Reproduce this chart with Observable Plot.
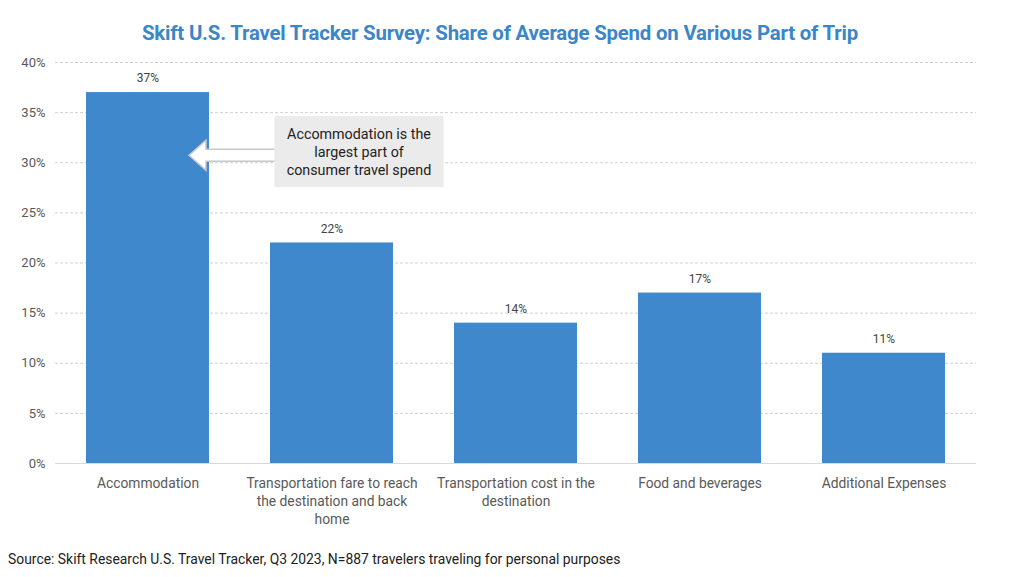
<!DOCTYPE html>
<html>
<head>
<meta charset="utf-8">
<script src="https://cdn.jsdelivr.net/npm/d3@7"></script>
<script src="https://cdn.jsdelivr.net/npm/@observablehq/plot@0.6"></script>
<style>
  body { margin: 0; background: #fff; font-family: Roboto, "Liberation Sans", sans-serif; }
  #wrap { width: 1024px; height: 577px; position: relative; overflow: hidden; }
  #title { height: 50px; line-height: 66px; text-align: center; padding-right: 24px; font-size: 20.4px; font-weight: bold; color: #3b86c8; letter-spacing: -0.2px; }
  #caption { position: absolute; left: 8px; top: 551px; font-size: 13.9px; color: #222; }
</style>
</head>
<body>
<div id="wrap">
  <div id="title">Skift U.S. Travel Tracker Survey: Share of Average Spend on Various Part of Trip</div>
  <div id="chart"></div>
  <div id="caption">Source: Skift Research U.S. Travel Tracker, Q3 2023, N=887 travelers traveling for personal purposes</div>
</div>
<script>
const categories = ["Accommodation", "Transportation fare to reach the destination and back home", "Transportation cost in the destination", "Food and beverages", "Additional Expenses"];
const tickLabels = ["Accommodation", "Transportation fare to reach\nthe destination and back\nhome", "Transportation cost in the\ndestination", "Food and beverages", "Additional Expenses"];
const shares = [37, 22, 14, 17, 11];
const yTicks = [0, 5, 10, 15, 20, 25, 30, 35, 40];
const annotationText = "Accommodation is the\nlargest part of\nconsumer travel spend";

const data = categories.map((c, i) => ({category: c, share: shares[i]}));
const labelOf = new Map(categories.map((c, i) => [c, tickLabels[i]]));

const annotation = (index, scales) => {
  const x = scales.x, y = scales.y;
  const bw = x.bandwidth();
  const x0 = x(categories[0]) + bw;          // right edge of first bar
  const cx2 = x(categories[1]) + bw / 2;     // center of second bar
  const yA = y(30.7);
  const g = d3.create("svg:g");
  const tip = x0 - 20, headBack = x0 - 3, shaftEnd = cx2 - 40;
  g.append("path")
    .attr("d", `M${tip},${yA} L${headBack},${yA-15} L${headBack},${yA-6} L${shaftEnd},${yA-6} L${shaftEnd},${yA+6} L${headBack},${yA+6} L${headBack},${yA+15} Z`)
    .attr("fill", "#fff").attr("stroke", "#c8c8c8").attr("stroke-width", 1.5);
  const bx = cx2 - 57, bwid = 169, by = y(34.6), bh = 71;
  g.append("rect").attr("x", bx).attr("y", by).attr("width", bwid).attr("height", bh).attr("fill", "#ebebeb");
  const lines = annotationText.split("\n");
  lines.forEach((t, i) => {
    g.append("text").attr("x", bx + bwid / 2).attr("y", by + 19 + i * 18)
      .attr("text-anchor", "middle").attr("dominant-baseline", "middle")
      .attr("font-size", 14.3).attr("fill", "#222").attr("font-family", "Roboto, sans-serif").text(t);
  });
  return g.node();
};

const chart = Plot.plot({
  width: 1024,
  height: 490,
  marginTop: 12,
  marginBottom: 77,
  marginLeft: 55,
  marginRight: 48,
  style: { fontFamily: "Roboto, sans-serif", fontSize: "13px", color: "#595959", background: "#fff" },
  x: { domain: categories, paddingInner: 0.33, paddingOuter: 0.165, label: null, tickSize: 0, tickPadding: 12, tickFormat: d => labelOf.get(d) },
  y: { domain: [0, 40], label: null, ticks: yTicks, tickSize: 0, tickPadding: 12, tickFormat: d => d + "%" },
  marks: [
    Plot.ruleY(yTicks.filter(d => d > 0), { stroke: "#d0d0d0", strokeDasharray: "3,2", strokeWidth: 1 }),
    Plot.ruleY([0], { stroke: "#d9d9d9", strokeWidth: 1 }),
    Plot.barY(data, { x: "category", y: "share", fill: "#3f88cc" }),
    Plot.text(data, { x: "category", y: "share", text: d => d.share + "%", dy: -14, fill: "#444", fontSize: 12 }),
    Plot.axisX({ tickSize: 0, tickPadding: 12, lineHeight: 1.3, tickFormat: d => labelOf.get(d), fontSize: 13.8, fill: "#595959" }),
    Plot.axisY({ ticks: yTicks, tickSize: 0, tickPadding: 10, tickFormat: d => d + "%", fontSize: 13, fill: "#595959" }),
    annotation
  ]
});
document.getElementById("chart").appendChild(chart);
</script>
</body>
</html>
